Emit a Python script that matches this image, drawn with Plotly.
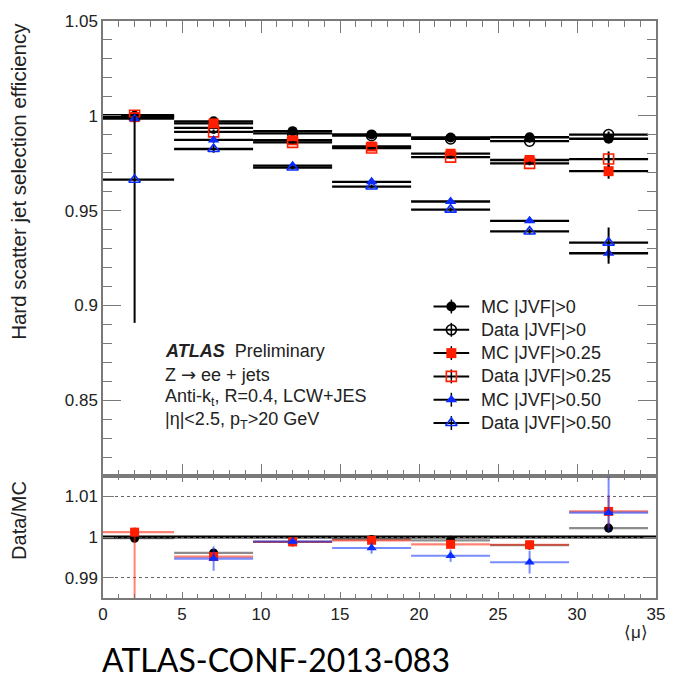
import plotly.graph_objects as go

# <mu> bins: centres and half widths
MU_CENTERS = [2, 7, 12, 17, 22, 27, 32]
MU_HALF_WIDTH = [2.5, 2.5, 2.5, 2.5, 2.5, 2.5, 2.5]

# Hard-scatter jet selection efficiency
EFF_MC_0 = [0.9998, 0.9971, 0.9919, 0.9902, 0.9886, 0.9887, 0.9879]
EFF_DATA_0 = [0.9996, 0.9936, 0.9907, 0.9895, 0.9878, 0.9866, 0.9901]
EFF_MC_025 = [0.9993, 0.9960, 0.9871, 0.9838, 0.9800, 0.9767, 0.9708]
EFF_DATA_025 = [1.0003, 0.9915, 0.9860, 0.9830, 0.9782, 0.9749, 0.9772]
EFF_MC_050 = [0.9985, 0.9873, 0.9737, 0.9652, 0.9548, 0.9446, 0.9275]
EFF_DATA_050 = [0.9663, 0.9825, 0.9727, 0.9627, 0.9505, 0.9390, 0.9331]

ERR_MC_0 = [0.0004, 0.0005, 0.0004, 0.0004, 0.0005, 0.0005, 0.0010]
ERR_DATA_0 = [0.0006, 0.0008, 0.0005, 0.0005, 0.0006, 0.0008, 0.0016]
ERR_MC_025 = [0.0005, 0.0006, 0.0005, 0.0005, 0.0006, 0.0008, 0.0040]
ERR_DATA_025 = [0.0008, 0.0010, 0.0006, 0.0006, 0.0008, 0.0010, 0.0040]
ERR_MC_050 = [0.0006, 0.0015, 0.0008, 0.0008, 0.0010, 0.0012, 0.0055]
ERR_DATA_050_UP = [0.0335, 0.0020, 0.0010, 0.0010, 0.0012, 0.0015, 0.0080]
ERR_DATA_050_DOWN = [0.0755, 0.0020, 0.0010, 0.0010, 0.0012, 0.0015, 0.0080]

# Data/MC ratios
RATIO_0 = [0.9997, 0.9961, 0.9988, 0.9994, 0.9992, 0.9980, 1.0022]
RATIO_025 = [1.0012, 0.9952, 0.9988, 0.9992, 0.9982, 0.9981, 1.0063]
RATIO_050 = [0.9675, 0.9947, 0.9989, 0.9973, 0.9954, 0.9938, 1.0060]

RATIO_ERR_0 = [0.0004, 0.0006, 0.0004, 0.0004, 0.0005, 0.0006, 0.0012]
RATIO_ERR_025_UP = [0.0012, 0.0008, 0.0005, 0.0005, 0.0007, 0.0010, 0.0040]
RATIO_ERR_025_DOWN = [0.0300, 0.0008, 0.0005, 0.0005, 0.0007, 0.0010, 0.0040]
RATIO_ERR_050_UP = [0.0, 0.0030, 0.0007, 0.0014, 0.0015, 0.0028, 0.0115]
RATIO_ERR_050_DOWN = [0.0, 0.0030, 0.0007, 0.0014, 0.0015, 0.0028, 0.0046]

# Axis ticks
X_TICKS = [0, 5, 10, 15, 20, 25, 30, 35]
X_TICK_TEXT = ["0", "5", "10", "15", "20", "25", "30", "35"]
EFF_TICKS = [0.85, 0.9, 0.95, 1.0, 1.05]
EFF_TICK_TEXT = ["0.85", "0.9", "0.95", "1", "1.05"]
RATIO_TICKS = [0.99, 1.0, 1.01]
RATIO_TICK_TEXT = ["0.99", "1", "1.01"]
RATIO_REF = 1.0

RED = "#ff1e00"
BLUE = "#0a2cff"
FRAME = "#7a7a7a"
FONT = "Liberation Sans"
TEXT = "#222"

# figure geometry (pixels) used to place annotations and the legend box
PLOT_L, PLOT_R, PLOT_T, PLOT_SPLIT, PLOT_B = 103.5, 661.5, 16, 475, 598

fig = go.Figure()

series = [
    ("MC |JVF|&gt;0", EFF_MC_0, ERR_MC_0, ERR_MC_0,
     dict(symbol="circle", color="black", size=10)),
    ("Data |JVF|&gt;0", EFF_DATA_0, ERR_DATA_0, ERR_DATA_0,
     dict(symbol="circle-open", color="black", size=10, line=dict(width=1.6, color="black"))),
    ("MC |JVF|&gt;0.25", EFF_MC_025, ERR_MC_025, ERR_MC_025,
     dict(symbol="square", color=RED, size=10)),
    ("Data |JVF|&gt;0.25", EFF_DATA_025, ERR_DATA_025, ERR_DATA_025,
     dict(symbol="square-open", color=RED, size=10, line=dict(width=1.6, color=RED))),
    ("MC |JVF|&gt;0.50", EFF_MC_050, ERR_MC_050, ERR_MC_050,
     dict(symbol="triangle-up", color=BLUE, size=10)),
    ("Data |JVF|&gt;0.50", EFF_DATA_050, ERR_DATA_050_UP, ERR_DATA_050_DOWN,
     dict(symbol="triangle-up-open", color=BLUE, size=10, line=dict(width=1.6, color=BLUE))),
]

for name, vals, eup, edn, mk in series:
    fig.add_trace(go.Scatter(
        x=MU_CENTERS, y=vals, mode="markers", marker=mk, showlegend=False, name=name,
        error_x=dict(type="data", array=MU_HALF_WIDTH, color="black", thickness=2.3, width=0),
        error_y=dict(type="data", array=eup, arrayminus=edn, symmetric=False,
                     color="black", thickness=2, width=0),
        xaxis="x", yaxis="y"))

# ratio panel
ratio_series = [
    (RATIO_0, RATIO_ERR_0, RATIO_ERR_0, "rgba(0,0,0,0.45)", dict(symbol="circle", color="black", size=9)),
    (RATIO_025, RATIO_ERR_025_UP, RATIO_ERR_025_DOWN, "rgba(255,30,0,0.55)", dict(symbol="square", color=RED, size=9)),
    (RATIO_050, RATIO_ERR_050_UP, RATIO_ERR_050_DOWN, "rgba(10,44,255,0.55)", dict(symbol="triangle-up", color=BLUE, size=9)),
]
for vals, eup, edn, col, mk in ratio_series:
    fig.add_trace(go.Scatter(
        x=MU_CENTERS, y=vals, mode="markers", marker=mk, showlegend=False,
        error_x=dict(type="data", array=MU_HALF_WIDTH, color=col, thickness=2.2, width=0),
        error_y=dict(type="data", array=eup, arrayminus=edn, symmetric=False,
                     color=col, thickness=2, width=0),
        xaxis="x2", yaxis="y2"))

fig.add_shape(type="line", xref="x2 domain", yref="y2", x0=0, x1=1,
              y0=RATIO_REF, y1=RATIO_REF, line=dict(color="black", width=3), layer="below")

# Legend box drawn on a hidden overlay axis pair spanning the upper panel (0..1 each way)
LEG_KEY_X0, LEG_KEY_X1, LEG_TEXT_X = 437, 473, 483
LEG_ROW_Y = [304, 327.5, 351, 374.5, 398, 421.5]

def key_x(pix):
    return (pix - PLOT_L) / (PLOT_R - PLOT_L)

def key_y(pix):
    return (PLOT_SPLIT - pix) / (PLOT_SPLIT - PLOT_T)

for (name, _v, _u, _d, mk), row in zip(series, LEG_ROW_Y):
    yk = key_y(row)
    fig.add_trace(go.Scatter(
        x=[key_x(LEG_KEY_X0), key_x(LEG_KEY_X1)], y=[yk, yk], mode="lines",
        line=dict(color="black", width=2), showlegend=False, hoverinfo="skip",
        xaxis="x3", yaxis="y3"))
    fig.add_trace(go.Scatter(
        x=[key_x((LEG_KEY_X0 + LEG_KEY_X1) / 2)], y=[yk], mode="markers", marker=mk,
        error_y=dict(type="data", array=[7 / (PLOT_SPLIT - PLOT_T)], color="black",
                     thickness=1.5, width=0),
        showlegend=False, hoverinfo="skip", xaxis="x3", yaxis="y3"))
    fig.add_annotation(text=name, xref="paper", yref="paper",
                       x=(LEG_TEXT_X - PLOT_L) / (PLOT_R - PLOT_L),
                       y=(PLOT_B - row) / (PLOT_B - PLOT_T),
                       xanchor="left", yanchor="middle", showarrow=False,
                       font=dict(family=FONT, size=18, color=TEXT))

split = (PLOT_B - PLOT_SPLIT) / (PLOT_B - PLOT_T)
tickfont = dict(family=FONT, size=17, color=TEXT)
common_axis = dict(showline=True, linecolor=FRAME, linewidth=1.5, mirror="ticks",
                   tickcolor=FRAME, tickwidth=1.2, ticks="inside", zeroline=False,
                   showgrid=False, tickfont=tickfont)

fig.update_layout(
    width=677, height=682,
    margin=dict(l=103, r=15, t=16, b=84),
    paper_bgcolor="white", plot_bgcolor="white",
    showlegend=False,
    xaxis=dict(common_axis, domain=[0, 1], anchor="y", range=[0, 35], matches="x2",
               tickmode="array", tickvals=X_TICKS, ticktext=X_TICK_TEXT,
               showticklabels=False, ticklen=12,
               minor=dict(tickmode="linear", tick0=0, dtick=1, ticklen=6, ticks="inside",
                          tickcolor=FRAME, tickwidth=1)),
    yaxis=dict(common_axis, domain=[split, 1], anchor="x", range=[0.81, 1.05],
               tickmode="array", tickvals=EFF_TICKS, ticktext=EFF_TICK_TEXT, ticklen=18,
               minor=dict(tickmode="linear", tick0=0, dtick=0.01, ticklen=9, ticks="inside",
                          tickcolor=FRAME, tickwidth=1)),
    xaxis2=dict(common_axis, domain=[0, 1], anchor="y2", range=[0, 35],
                tickmode="array", tickvals=X_TICKS, ticktext=X_TICK_TEXT, ticklen=6,
                minor=dict(tickmode="linear", tick0=0, dtick=1, ticklen=4, ticks="inside",
                           tickcolor=FRAME, tickwidth=1)),
    yaxis2=dict(common_axis, domain=[0, split], anchor="x2", range=[0.985, 1.015],
                tickmode="array", tickvals=RATIO_TICKS, ticktext=RATIO_TICK_TEXT, ticklen=11,
                showgrid=True, gridcolor="#666", griddash="dot", gridwidth=1),
    xaxis3=dict(overlaying="x", range=[0, 1], visible=False, fixedrange=True),
    yaxis3=dict(overlaying="y", range=[0, 1], visible=False, fixedrange=True),
)

def py(pix):
    return (PLOT_B - pix) / (PLOT_B - PLOT_T)

def px(pix):
    return (pix - PLOT_L) / (PLOT_R - PLOT_L)

notes = [
    ("<b><i>ATLAS</i></b>  Preliminary", 349),
    ("Z <span style=\"font-family:'DejaVu Sans'\">→</span> ee + jets", 372.5),
    ("Anti-k<sub>t</sub>, R=0.4, LCW+JES", 395.5),
    ("|η|&lt;2.5, p<sub>T</sub>&gt;20 GeV", 418.5),
]
for txt, yy in notes:
    fig.add_annotation(text=txt, xref="paper", yref="paper", x=px(164), y=py(yy),
                       xanchor="left", yanchor="middle", showarrow=False,
                       font=dict(family=FONT, size=18, color=TEXT))

fig.add_annotation(text="Hard scatter jet selection efficiency", xref="paper", yref="paper",
                   x=px(18), y=py(178), xanchor="center", yanchor="middle", textangle=-90,
                   showarrow=False, font=dict(family=FONT, size=20.5, color=TEXT))
fig.add_annotation(text="Data/MC", xref="paper", yref="paper",
                   x=px(18), y=py(520), xanchor="center", yanchor="middle", textangle=-90,
                   showarrow=False, font=dict(family=FONT, size=20, color=TEXT))
fig.add_annotation(text="⟨μ⟩", xref="paper", yref="paper",
                   x=px(641), y=py(633), xanchor="center", yanchor="middle",
                   showarrow=False, font=dict(family=FONT, size=17, color=TEXT))
fig.add_annotation(text="ATLAS-CONF-2013-083", xref="paper", yref="paper",
                   x=px(100), y=py(660), xanchor="left", yanchor="middle",
                   showarrow=False, font=dict(family="Lato", size=32, color="black"))

fig.write_html("out.html")
